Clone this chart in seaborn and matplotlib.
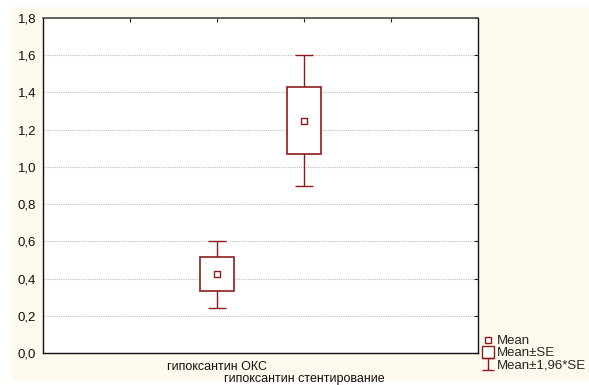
import matplotlib
matplotlib.use('Agg')
import matplotlib.pyplot as plt
import seaborn as sns
import pandas as pd
import numpy as np
from matplotlib.path import Path
from matplotlib.lines import Line2D
from matplotlib.patches import Rectangle

# ---- data ----
categories = ['гипоксантин ОКС', 'гипоксантин стентирование']
means = [0.423, 1.249]
se = [0.092, 0.180]
ci_factor = 1.96
y_ticks = [0.0, 0.2, 0.4, 0.6, 0.8, 1.0, 1.2, 1.4, 1.6, 1.8]
legend_labels = ['Mean', 'Mean±SE', 'Mean±1,96*SE']

RED = '#8C1C1C'
CREAM = '#FFF9EE'

sns.set_theme(style='white')
plt.rcParams['font.family'] = ['Liberation Sans', 'DejaVu Sans']

W, H = 589, 385
fig = plt.figure(figsize=(W / 100, H / 100), dpi=100)
fig.patch.set_facecolor('white')
fig.patches.append(Rectangle((12 / W, 1 - 381 / H), 1 - 12 / W, (381 - 7) / H,
                             transform=fig.transFigure, facecolor=CREAM,
                             edgecolor='none', zorder=-10))

ax = fig.add_axes([43 / W, 1 - 353 / H, (478 - 43) / W, (353 - 18) / H])
ax.set_facecolor('white')

df = pd.DataFrame({'category': categories, 'mean': means, 'se': se})
df['pos'] = np.arange(len(df)) + 2

# whiskers (mean ± 1.96*SE)
ax.errorbar(df['pos'], df['mean'], yerr=ci_factor * df['se'], fmt='none',
            ecolor=RED, elinewidth=1.0, capsize=6.5, capthick=1.0, zorder=2)
# boxes (mean ± SE)
ax.bar(df['pos'], 2 * df['se'], bottom=df['mean'] - df['se'], width=0.4,
       facecolor='white', edgecolor=RED, linewidth=1.2, zorder=3)
# mean markers
sns.scatterplot(data=df, x='pos', y='mean', marker='s', s=20, color='white',
                edgecolor=RED, linewidth=1.0, zorder=4, ax=ax, legend=False)

ax.set_xlim(0, 5)
ax.set_ylim(0, 1.8)
ax.set_xlabel('')
ax.set_ylabel('')

# major ticks with first category label, minor (invisible) tick for staggered second label
ax.xaxis.remove_overlapping_locs = False
ax.set_xticks([1, 2, 3, 4])
ax.set_xticklabels(['', categories[0], '', ''])
ax.set_xticks([df['pos'].iloc[1]], minor=True)
ax.set_xticklabels([categories[1]], minor=True)
ax.set_yticks(y_ticks)
ax.set_yticklabels([f'{v:.1f}'.replace('.', ',') for v in y_ticks])

ax.yaxis.grid(True, linestyle=(0, (1, 1)), color='#BDBDBD', linewidth=0.8)
ax.xaxis.grid(False)
ax.set_axisbelow(True)

ax.tick_params(axis='both', which='major', direction='in', length=3, width=0.8,
               color='#222222', top=True, right=True, labelcolor='#111111')
ax.tick_params(axis='x', which='major', labelsize=9, pad=6)
ax.tick_params(axis='x', which='minor', length=0, labelsize=9, pad=14.6,
               labelcolor='#111111', top=False)
ax.tick_params(axis='y', labelsize=9.5, pad=5)
for side in ['left', 'right', 'bottom']:
    ax.spines[side].set_color('#111111')
    ax.spines[side].set_linewidth(1.0)
ax.spines['top'].set_color('#555555')
ax.spines['top'].set_linewidth(1.3)

# legend
i_path = Path([(-1, 1), (1, 1), (0, 1), (0, -1), (-1, -1), (1, -1)],
              [Path.MOVETO, Path.LINETO, Path.MOVETO, Path.LINETO, Path.MOVETO, Path.LINETO])
handles = [
    Line2D([], [], linestyle='none', marker='s', markersize=4, markerfacecolor='white',
           markeredgecolor=RED, markeredgewidth=1.0),
    Line2D([], [], linestyle='none', marker='s', markersize=8, markerfacecolor='white',
           markeredgecolor=RED, markeredgewidth=1.0),
    Line2D([], [], linestyle='none', marker=i_path, markersize=8, markerfacecolor='none',
           markeredgecolor=RED, markeredgewidth=1.0),
]
fig.legend(handles, legend_labels, loc='upper left',
           bbox_to_anchor=(483 / W, 1 - 335 / H), frameon=False, fontsize=9.5,
           handlelength=0.8, handletextpad=0.25, labelspacing=0.0, borderpad=0,
           borderaxespad=0)

fig.savefig('out.png', dpi=100, facecolor='white')
